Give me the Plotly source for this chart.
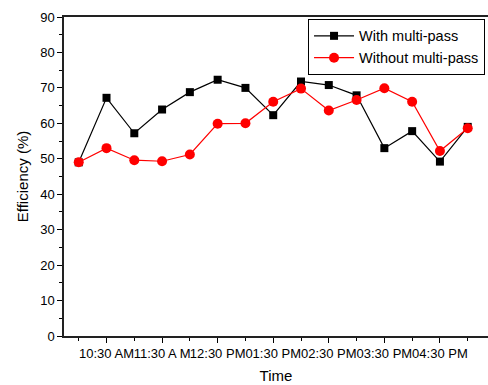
import plotly.graph_objects as go

times = ["10:00 AM", "10:30 AM", "11:00 AM", "11:30 A M", "12:00 PM", "12:30 PM",
         "01:00 PM", "01:30 PM", "02:00 PM", "02:30 PM", "03:00 PM", "03:30 PM",
         "04:00 PM", "04:30 PM", "05:00 PM"]
with_multi = [49.0, 67.2, 57.2, 63.9, 68.8, 72.3, 70.0, 62.3, 71.8, 70.8, 67.9, 53.0, 57.8, 49.2, 59.0]
without_multi = [49.0, 53.0, 49.6, 49.3, 51.2, 59.9, 60.0, 66.1, 69.8, 63.6, 66.6, 69.9, 66.1, 52.2, 58.6]
labeled_idx = [1, 3, 5, 7, 9, 11, 13]

x = list(range(len(times)))
font = "Liberation Sans, Arial, sans-serif"

fig = go.Figure()
fig.add_trace(go.Scatter(
    x=x, y=with_multi, mode="lines+markers", name="With multi-pass",
    line=dict(color="black", width=1.2),
    marker=dict(symbol="square", size=8, color="black"),
))
fig.add_trace(go.Scatter(
    x=x, y=without_multi, mode="lines+markers", name="Without multi-pass",
    line=dict(color="red", width=1.2),
    marker=dict(symbol="circle", size=10, color="red"),
))

fig.update_layout(
    width=488, height=385,
    margin=dict(l=64, r=0, t=17, b=49),
    paper_bgcolor="white", plot_bgcolor="white",
    font=dict(family=font, size=13, color="black"),
    showlegend=True,
    legend=dict(
        x=0.993, y=0.994, xanchor="right", yanchor="top",
        bordercolor="black", borderwidth=1, bgcolor="white",
        font=dict(size=14.5), tracegroupgap=0, itemwidth=40,
    ),
    xaxis=dict(
        range=[-0.53, 14.73],
        tickmode="array",
        tickvals=labeled_idx,
        ticktext=[times[i] for i in labeled_idx],
        tickangle=0,
        ticks="outside", ticklen=5, tickwidth=1, tickcolor="black",
        minor=dict(tickmode="array", tickvals=x, ticks="outside", ticklen=3, tickcolor="black", showgrid=False),
        showline=True, linecolor="#222", linewidth=1.5, mirror=True,
        showgrid=False, zeroline=False,
        title=dict(text="Time", font=dict(size=15), standoff=10),
        tickfont=dict(size=13),
    ),
    yaxis=dict(
        range=[0, 90],
        dtick=10,
        ticks="outside", ticklen=5, tickwidth=1, tickcolor="black",
        minor=dict(dtick=5, ticks="outside", ticklen=3, tickcolor="black", showgrid=False),
        showline=True, linecolor="#222", linewidth=1.5, mirror=False,
        showgrid=False, zeroline=False,
        title=dict(text="Efficiency (%)", font=dict(size=15), standoff=8),
        tickfont=dict(size=13),
    ),
)

fig.write_html("out.html")
